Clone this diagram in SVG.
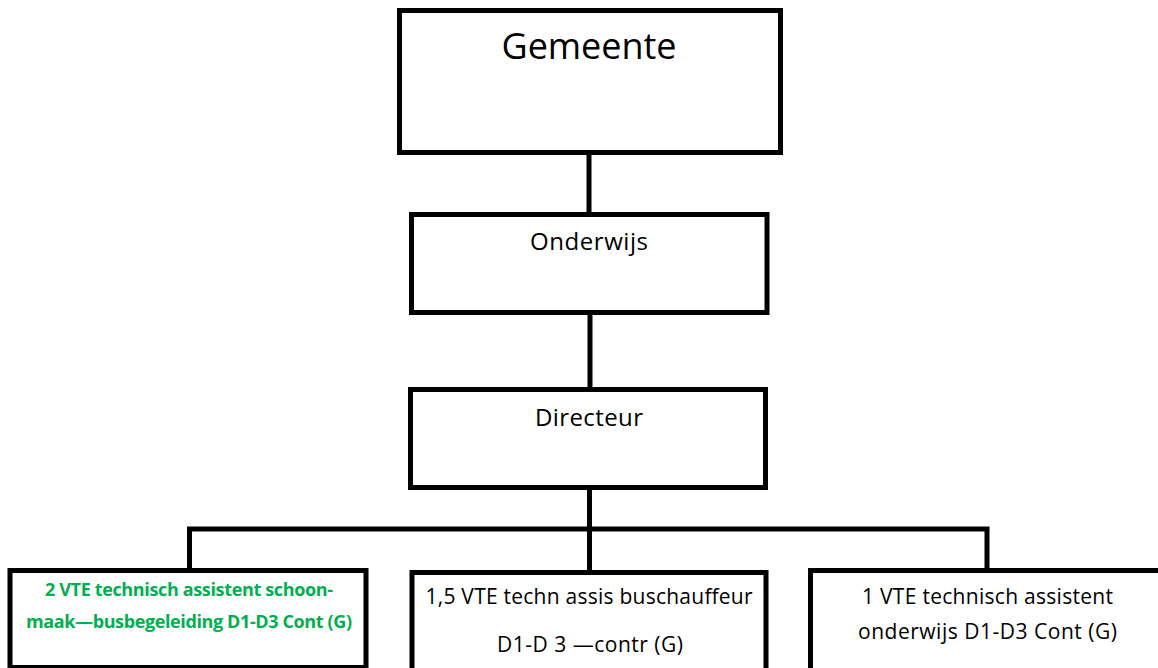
<svg xmlns="http://www.w3.org/2000/svg" width="1158" height="668" viewBox="0 0 1158 668">
<style>
.box{fill:#fff;stroke:#000;stroke-width:5}
.conn{fill:none;stroke:#000;stroke-width:5}
.t{font-family:"Open Sans","Liberation Sans",sans-serif;fill:#000;text-anchor:middle}
.g{font-family:"Open Sans","Liberation Sans",sans-serif;fill:#00B050;font-weight:bold;text-anchor:middle}
</style>
<rect width="1158" height="668" fill="#fff"/>
<g id="connectors">
<line class="conn" x1="589" y1="153" x2="589" y2="214"/>
<line class="conn" x1="590" y1="313" x2="590" y2="390"/>
<polyline class="conn" points="189.5,570 189.5,529 987,529 987,570"/>
<line class="conn" x1="589.5" y1="488" x2="589.5" y2="572"/>
</g>
<g id="gemeente">
<rect class="box" x="399.5" y="10.5" width="381" height="142"/>
<text class="t" x="589" y="59" font-size="36" textLength="175">Gemeente</text>
</g>
<g id="onderwijs">
<rect class="box" x="411.5" y="214.5" width="355.5" height="98"/>
<text class="t" x="589" y="250" font-size="24" textLength="118">Onderwijs</text>
</g>
<g id="directeur">
<rect class="box" x="410.5" y="389.5" width="355" height="98"/>
<text class="t" x="589" y="426" font-size="24" textLength="108">Directeur</text>
</g>
<g id="schoonmaak">
<rect class="box" x="10" y="570.5" width="356" height="97"/>
<text class="g" x="189" y="596" font-size="18" textLength="288">2 VTE technisch assistent schoon-</text>
<text class="g" x="189" y="628" font-size="18" textLength="326">maak—busbegeleiding D1-D3 Cont (G)</text>
</g>
<g id="buschauffeur">
<rect class="box" x="412" y="572.5" width="354" height="110"/>
<text class="t" x="589" y="604" font-size="21" textLength="327">1,5 VTE techn assis buschauffeur</text>
<text class="t" x="590" y="652" font-size="21" textLength="186">D1-D 3 —contr (G)</text>
</g>
<g id="onderwijs-assistent">
<rect class="box" x="810.5" y="570.5" width="355" height="110"/>
<text class="t" x="987.5" y="604" font-size="21" textLength="251">1 VTE technisch assistent</text>
<text class="t" x="987.5" y="639" font-size="21" textLength="259">onderwijs D1-D3 Cont (G)</text>
</g>
</svg>
